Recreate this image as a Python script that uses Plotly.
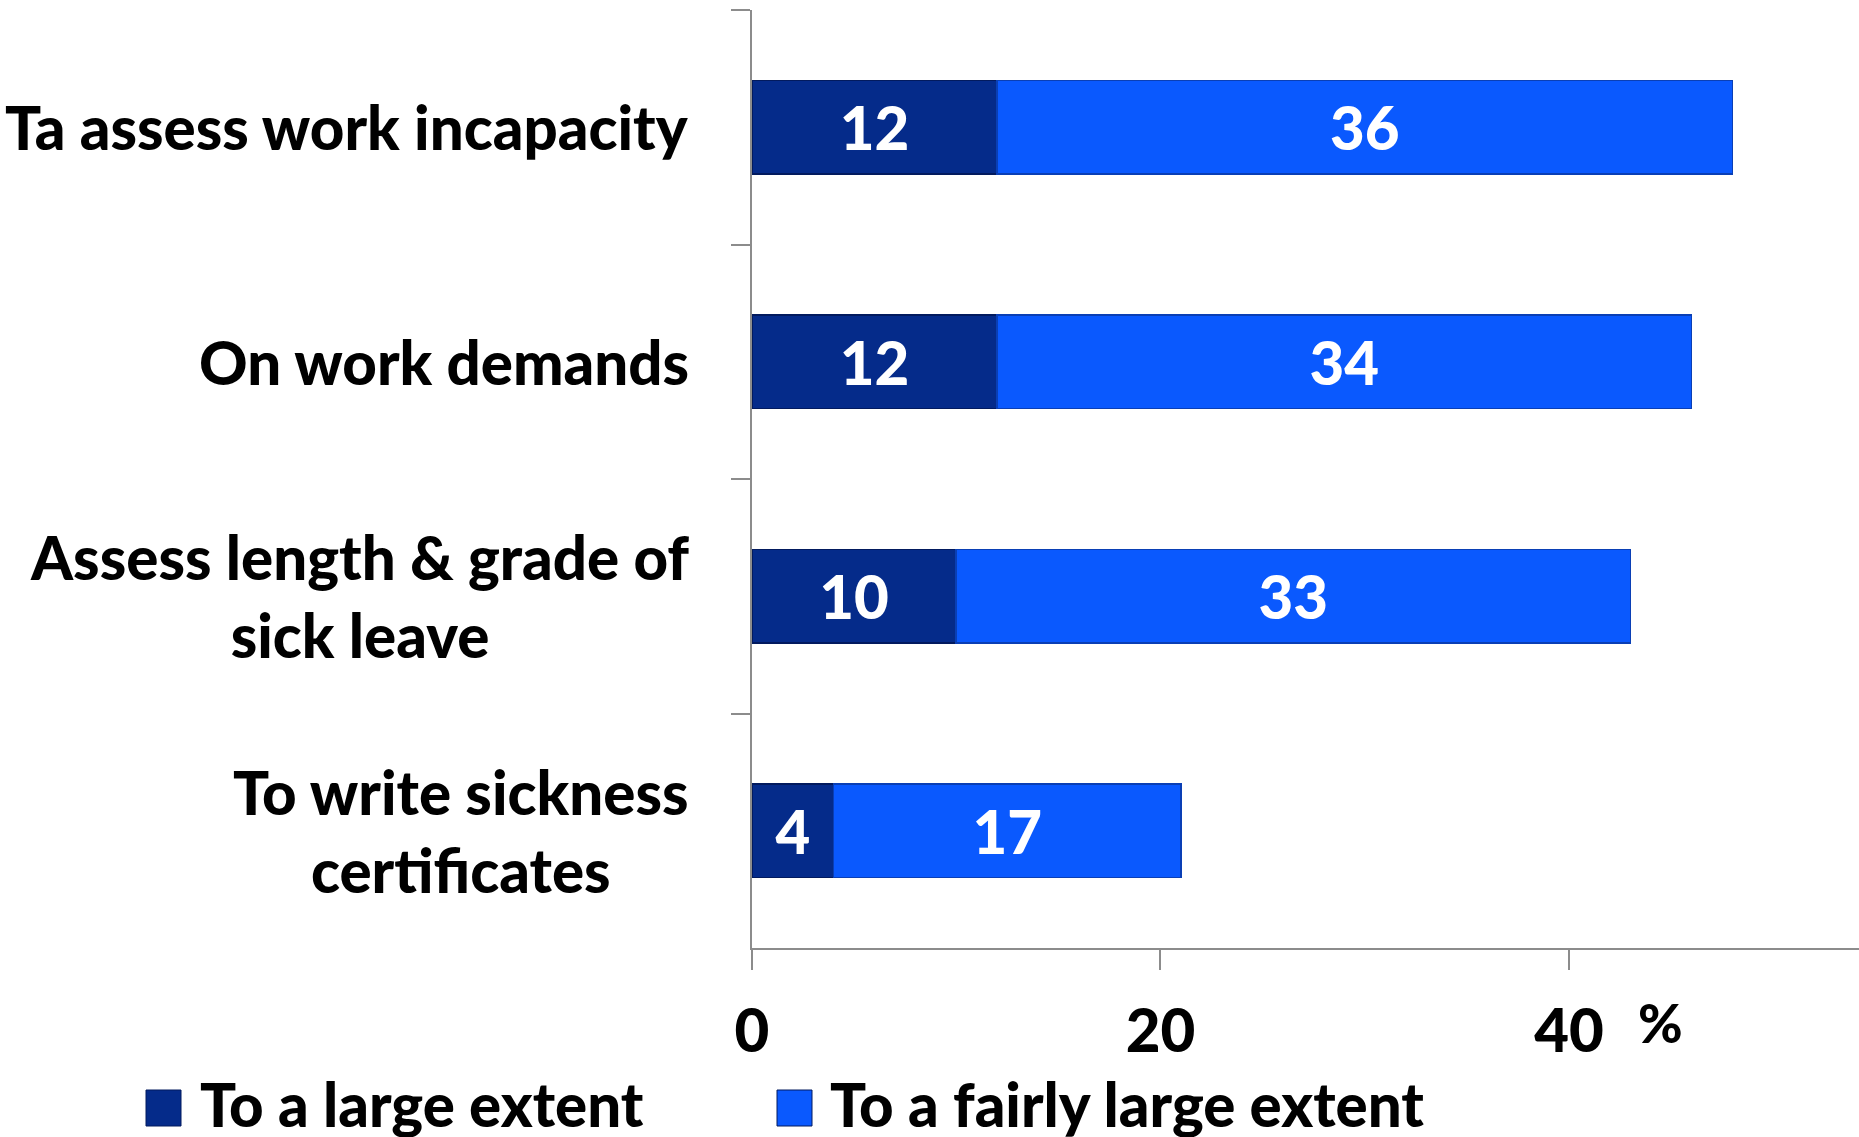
import plotly.graph_objects as go

# ---- data ----
categories = [
    "Ta assess work incapacity",
    "On work demands",
    "Assess length & grade of<br>sick leave",
    "To write sickness<br>certificates",
]
large_extent = [12, 12, 10, 4]
fairly_large_extent = [36, 34, 33, 17]
series_names = ["To a large extent", "To a fairly large extent"]
x_ticks = [0, 20, 40]

# ---- style ----
W, H = 1859, 1137
ML, MR, MT, MB = 752, 0, 10, 189
PW, PH = W - ML - MR, H - MT - MB
FONT = "Lato"
FS = 60
WT = 900
DARK = "#052B8A"
LIGHT = "#0A59FE"
AXIS = "#8C8C8C"


def px_x(p):
    return (p - ML) / PW


def px_y(p):
    return (H - MB - p) / PH


fig = go.Figure()
fig.add_trace(go.Bar(
    y=categories, x=large_extent, orientation="h", name=series_names[0],
    marker=dict(color=DARK, line=dict(color="#021a5e", width=1.5)),
    text=[str(v) for v in large_extent], textposition="inside",
    insidetextanchor="middle", constraintext="none",
    textfont=dict(family=FONT, size=FS, color="white", weight=WT),
    width=0.4, showlegend=False,
))
fig.add_trace(go.Bar(
    y=categories, x=fairly_large_extent, orientation="h", name=series_names[1],
    marker=dict(color=LIGHT, line=dict(color="#0a3fb5", width=1.5)),
    text=[str(v) for v in fairly_large_extent], textposition="inside",
    insidetextanchor="middle", constraintext="none",
    textfont=dict(family=FONT, size=FS, color="white", weight=WT),
    width=0.4, showlegend=False,
))

annotations = []
for c in categories:
    annotations.append(dict(
        x=0, xref="paper", y=c, yref="y", xanchor="right", yanchor="middle",
        xshift=-61, text=c, showarrow=False, align="center",
        font=dict(family=FONT, size=FS, color="black", weight=WT),
    ))
# percent sign
annotations.append(dict(
    x=px_x(1660), xref="paper", y=px_y(1022), yref="paper",
    xanchor="center", yanchor="middle", text="%", showarrow=False,
    font=dict(family=FONT, size=FS * 0.9, color="black", weight=WT),
))

# custom legend
shapes = []
legend_items = [
    (series_names[0], DARK, 146, 198),
    (series_names[1], LIGHT, 777, 828),
]
for name, col, mx, tx in legend_items:
    shapes.append(dict(
        type="rect", xref="paper", yref="paper",
        x0=px_x(mx), x1=px_x(mx + 35), y0=px_y(1126), y1=px_y(1090),
        fillcolor=col, line=dict(color="#021a5e", width=1),
    ))
    annotations.append(dict(
        x=px_x(tx), xref="paper", y=px_y(1104), yref="paper",
        xanchor="left", yanchor="middle", text=name, showarrow=False,
        font=dict(family=FONT, size=FS, color="black", weight=WT),
    ))

fig.update_layout(
    barmode="stack",
    width=W, height=H,
    margin=dict(l=ML, r=MR, t=MT, b=MB, pad=0),
    plot_bgcolor="white", paper_bgcolor="white",
    annotations=annotations, shapes=shapes,
    showlegend=False,
    xaxis=dict(
        range=[0, 54.2], tickvals=x_ticks, ticktext=[str(v) for v in x_ticks],
        showgrid=False, zeroline=False, showline=True, linecolor=AXIS,
        linewidth=1.5, ticks="outside", ticklen=20, tickcolor=AXIS,
        tickwidth=1.5, ticklabelstandoff=10,
        tickfont=dict(family=FONT, size=FS, color="black", weight=WT),
    ),
    yaxis=dict(
        categoryorder="array", categoryarray=categories,
        range=[3.5, -0.5], showticklabels=False, tickson="boundaries",
        showgrid=False, zeroline=False, showline=True, linecolor=AXIS,
        linewidth=1.5, ticks="outside", ticklen=19, tickcolor=AXIS,
        tickwidth=1.5,
    ),
)

fig.write_html("out.html")
